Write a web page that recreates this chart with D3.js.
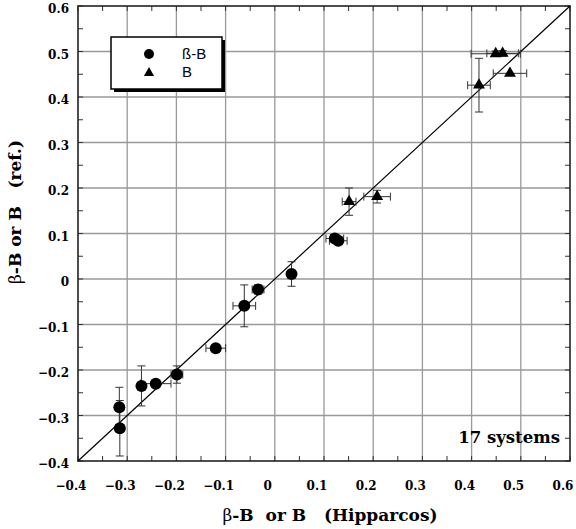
<!DOCTYPE html>
<html>
<head>
<meta charset="utf-8">
<script src="https://cdn.jsdelivr.net/npm/d3@7"></script>
<style>
  body { margin: 0; background: #fff; }
  svg { display: block; }
  .tick-label { font-family: "DejaVu Serif", serif; font-weight: bold; font-size: 12px; fill: #000; }
  .title { font-family: "DejaVu Serif", serif; font-weight: bold; font-size: 17px; fill: #000; }
  .legend-text { font-family: "Liberation Sans", Arial, sans-serif; font-size: 15px; fill: #000; }
</style>
</head>
<body>
<div id="chart"></div>
<script>
// beta-B systems (circles)
const betaX = [-0.316, -0.315, -0.271, -0.242, -0.199, -0.120, -0.062, -0.034, 0.034, 0.122, 0.129];
const betaY = [-0.282, -0.328, -0.235, -0.230, -0.210, -0.152, -0.059, -0.023, 0.011, 0.089, 0.084];
const betaXErr = [0, 0.008, 0, 0.031, 0.012, 0.020, 0.023, 0.012, 0, 0.018, 0.018];
const betaYErr = [0.044, 0.061, 0.044, 0, 0.019, 0, 0.046, 0.010, 0.027, 0.008, 0.008];

// B systems (triangles)
const bX = [0.151, 0.208, 0.415, 0.449, 0.463, 0.478];
const bY = [0.170, 0.181, 0.426, 0.495, 0.496, 0.452];
const bXErr = [0.014, 0.027, 0.023, 0.050, 0.032, 0.034];
const bYErr = [0.030, 0.014, 0.059, 0.006, 0.006, 0];

const tickValues = [-0.4, -0.3, -0.2, -0.1, 0, 0.1, 0.2, 0.3, 0.4, 0.5, 0.6];
const minorTicks = d3.range(-0.4, 0.6001, 0.05);

const width = 576, height = 529;
const margin = { left: 78, right: 6, top: 6, bottom: 68 };

const svg = d3.select('#chart').append('svg')
    .attr('width', width)
    .attr('height', height);

const x = d3.scaleLinear().domain([-0.4, 0.6]).range([margin.left, width - margin.right]);
const y = d3.scaleLinear().domain([-0.4, 0.6]).range([height - margin.bottom, margin.top]);

const fmt = d => d === 0 ? '0' : d3.format('.1f')(d);

// grid
const grid = svg.append('g');
grid.selectAll('.gx').data(tickValues.slice(1, -1)).enter().append('line')
    .attr('x1', d => x(d)).attr('x2', d => x(d))
    .attr('y1', y(-0.4)).attr('y2', y(0.6))
    .attr('stroke', '#999').attr('stroke-width', 1.3);
grid.selectAll('.gy').data(tickValues.slice(1, -1)).enter().append('line')
    .attr('y1', d => y(d)).attr('y2', d => y(d))
    .attr('x1', x(-0.4)).attr('x2', x(0.6))
    .attr('stroke', '#999').attr('stroke-width', 1.3);

// minor ticks on all four sides, pointing inward
const tickLen = 5;
const ticks = svg.append('g').attr('stroke', '#333').attr('stroke-width', 1);
minorTicks.forEach(v => {
    ticks.append('line').attr('x1', x(v)).attr('x2', x(v)).attr('y1', y(-0.4)).attr('y2', y(-0.4) - tickLen);
    ticks.append('line').attr('x1', x(v)).attr('x2', x(v)).attr('y1', y(0.6)).attr('y2', y(0.6) + tickLen);
    ticks.append('line').attr('y1', y(v)).attr('y2', y(v)).attr('x1', x(-0.4)).attr('x2', x(-0.4) + tickLen);
    ticks.append('line').attr('y1', y(v)).attr('y2', y(v)).attr('x1', x(0.6)).attr('x2', x(0.6) - tickLen);
});

// frame
svg.append('rect')
    .attr('x', x(-0.4)).attr('y', y(0.6))
    .attr('width', x(0.6) - x(-0.4)).attr('height', y(-0.4) - y(0.6))
    .attr('fill', 'none').attr('stroke', '#222').attr('stroke-width', 1.6);

// tick labels
svg.append('g').selectAll('text').data(tickValues).enter().append('text')
    .attr('class', 'tick-label')
    .attr('x', d => x(d) - 7)
    .attr('y', y(-0.4) + 29)
    .attr('text-anchor', 'middle')
    .text(fmt);
svg.append('g').selectAll('text').data(tickValues).enter().append('text')
    .attr('class', 'tick-label')
    .attr('x', x(-0.4) - 9)
    .attr('y', d => y(d) + 7)
    .attr('text-anchor', 'end')
    .text(fmt);

// identity line
svg.append('line')
    .attr('x1', x(-0.4)).attr('y1', y(-0.4))
    .attr('x2', x(0.6)).attr('y2', y(0.6))
    .attr('stroke', '#000').attr('stroke-width', 1.2);

// error bars
function errorBars(xs, ys, xe, ye) {
    const g = svg.append('g').attr('stroke', '#333').attr('stroke-width', 1).attr('fill', 'none');
    const cap = 4;
    xs.forEach((xv, i) => {
        const cx = x(xv), cy = y(ys[i]);
        if (xe[i] > 0) {
            const x0 = x(xv - xe[i]), x1 = x(xv + xe[i]);
            g.append('line').attr('x1', x0).attr('x2', x1).attr('y1', cy).attr('y2', cy);
            g.append('line').attr('x1', x0).attr('x2', x0).attr('y1', cy - cap).attr('y2', cy + cap);
            g.append('line').attr('x1', x1).attr('x2', x1).attr('y1', cy - cap).attr('y2', cy + cap);
        }
        if (ye[i] > 0) {
            const y0 = y(ys[i] - ye[i]), y1 = y(ys[i] + ye[i]);
            g.append('line').attr('x1', cx).attr('x2', cx).attr('y1', y0).attr('y2', y1);
            g.append('line').attr('x1', cx - cap).attr('x2', cx + cap).attr('y1', y0).attr('y2', y0);
            g.append('line').attr('x1', cx - cap).attr('x2', cx + cap).attr('y1', y1).attr('y2', y1);
        }
    });
}
errorBars(betaX, betaY, betaXErr, betaYErr);
errorBars(bX, bY, bXErr, bYErr);

// markers
svg.append('g').selectAll('circle').data(betaX).enter().append('circle')
    .attr('cx', d => x(d))
    .attr('cy', (d, i) => y(betaY[i]))
    .attr('r', 6)
    .attr('fill', '#000');

const tri = d3.symbol().type(d3.symbolTriangle).size(62);
svg.append('g').selectAll('path').data(bX).enter().append('path')
    .attr('d', tri)
    .attr('transform', (d, i) => `translate(${x(d)},${y(bY[i])})`)
    .attr('fill', '#000');

// legend
const legend = svg.append('g');
legend.append('rect').attr('x', 114).attr('y', 40).attr('width', 111).attr('height', 52).attr('fill', '#000');
legend.append('rect').attr('x', 111).attr('y', 37).attr('width', 111).attr('height', 52)
    .attr('fill', '#fff').attr('stroke', '#000').attr('stroke-width', 1.5);
legend.append('circle').attr('cx', 149).attr('cy', 54).attr('r', 5).attr('fill', '#000');
legend.append('path').attr('d', d3.symbol().type(d3.symbolTriangle).size(45))
    .attr('transform', 'translate(149,73)').attr('fill', '#000');
legend.append('text').attr('class', 'legend-text').attr('x', 182).attr('y', 59).text('ß-B');
legend.append('text').attr('class', 'legend-text').attr('x', 182).attr('y', 77).text('B');

// annotation
svg.append('text')
    .attr('x', x(0.6) - 10).attr('y', y(-0.4) - 18)
    .attr('text-anchor', 'end')
    .style('font-family', '"DejaVu Serif", serif')
    .style('font-weight', 'bold')
    .style('font-size', '16.5px')
    .text('17 systems');

// axis titles
const xt = svg.append('text').attr('class', 'title')
    .attr('x', 330).attr('y', 521).attr('text-anchor', 'middle')
    .attr('xml:space', 'preserve');
xt.append('tspan').style('font-weight', 'normal').text('\u03b2');
xt.append('tspan').text('-B  or B   (Hipparcos)');

const yt = svg.append('text').attr('class', 'title')
    .attr('transform', 'translate(21,212) rotate(-90)')
    .attr('text-anchor', 'middle')
    .attr('xml:space', 'preserve');
yt.append('tspan').style('font-weight', 'normal').text('\u03b2');
yt.append('tspan').text('-B or B   (ref.)');
</script>
</body>
</html>
